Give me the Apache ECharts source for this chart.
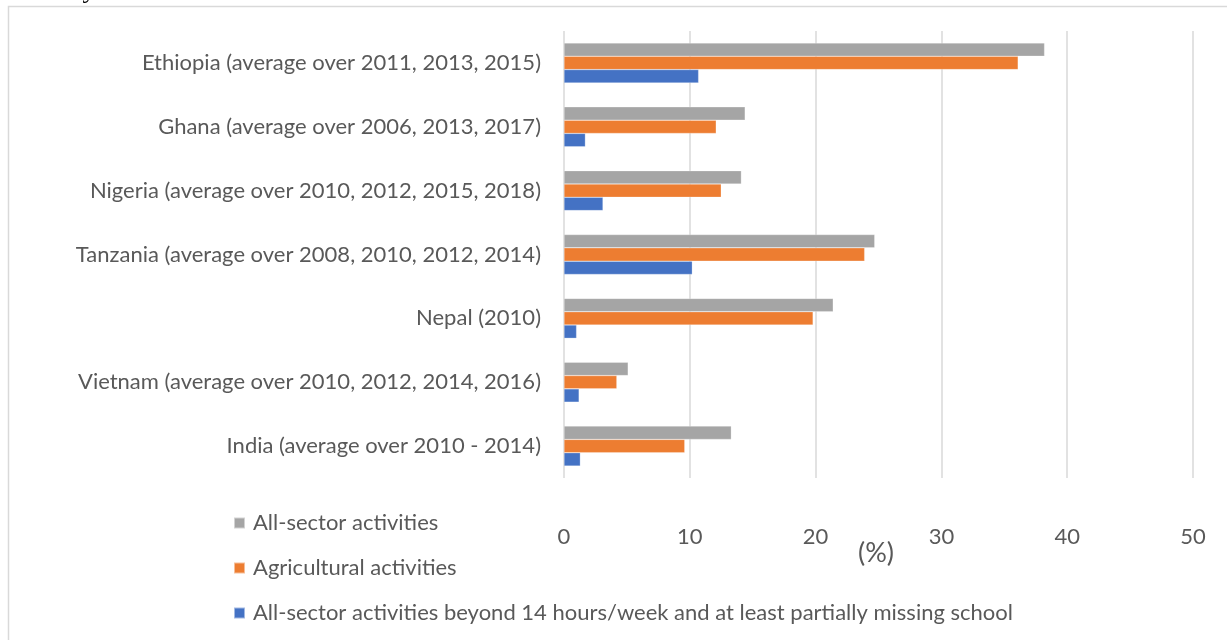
<!DOCTYPE html>
<html>
<head>
<meta charset="utf-8">
<script src="https://cdn.jsdelivr.net/npm/echarts@6/dist/echarts.min.js"></script>
<style>
  html, body { margin: 0; padding: 0; background: #ffffff; }
  #chart { width: 1227px; height: 640px; }
</style>
</head>
<body>
<div id="chart"></div>
<script>
// Countries and survey years
const categories = [
  'Ethiopia (average over 2011, 2013, 2015)',
  'Ghana (average over 2006, 2013, 2017)',
  'Nigeria (average over 2010, 2012, 2015, 2018)',
  'Tanzania (average over 2008, 2010, 2012, 2014)',
  'Nepal (2010)',
  'Vietnam (average over 2010, 2012, 2014, 2016)',
  'India (average over 2010 - 2014)'
];

// Share of children working (%)
const allSector = [38.2, 14.4, 14.1, 24.7, 21.4, 5.1, 13.3];
const agricultural = [36.1, 12.1, 12.5, 23.9, 19.8, 4.2, 9.6];
const beyond14h = [10.7, 1.7, 3.1, 10.2, 1.0, 1.2, 1.3];

const seriesNames = [
  'All-sector activities',
  'Agricultural activities',
  'All-sector activities beyond 14 hours/week and at least partially missing school'
];
const seriesColors = ['#a5a5a5', '#ed7d31', '#4472c4'];

const textColor = '#595959';
const fontFamily = 'Lato, "Open Sans", sans-serif';
const fontSize = 22;

const chart = echarts.init(document.getElementById('chart'));

function barSeries(name, data, color) {
  return {
    name: name,
    type: 'bar',
    data: data,
    barWidth: 13.3,
    barGap: '0%',
    itemStyle: { color: color, borderColor: 'rgba(255,255,255,0.5)', borderWidth: 0.5 },
    emphasis: { disabled: true }
  };
}

chart.setOption({
  animation: false,
  backgroundColor: '#ffffff',
  textStyle: { fontFamily: fontFamily, color: textColor },
  grid: { left: 564, right: 34, top: 31, bottom: 162, containLabel: false },
  xAxis: {
    type: 'value',
    min: 0,
    max: 50,
    interval: 10,
    axisLine: { show: false },
    axisTick: { show: false },
    axisLabel: { color: textColor, fontSize: fontSize, margin: 48, fontFamily: fontFamily },
    splitLine: { show: true, lineStyle: { color: '#d9d9d9', width: 1.5 } }
  },
  yAxis: {
    type: 'category',
    data: categories,
    inverse: true,
    axisLine: { show: false },
    axisTick: { show: false },
    axisLabel: { color: textColor, fontSize: fontSize, margin: 23, fontFamily: fontFamily }
  },
  legend: {
    orient: 'vertical',
    left: 233,
    top: 512,
    padding: 0,
    itemGap: 23,
    itemWidth: 11,
    itemHeight: 11,
    icon: 'rect',
    selectedMode: false,
    textStyle: { color: textColor, fontSize: fontSize, fontFamily: fontFamily, padding: [0, 0, 0, 3] },
    data: seriesNames
  },
  graphic: [
    {
      type: 'rect',
      silent: true,
      shape: { x: 8.5, y: 6.5, width: 1400, height: 800 },
      style: { fill: 'none', stroke: '#d9d9d9', lineWidth: 1.5 }
    },
    {
      type: 'text',
      silent: true,
      left: 16,
      top: -22,
      style: { text: 'country', fontSize: 26, fontFamily: '"Liberation Serif", serif', fill: '#000000' }
    },
    {
      // value axis unit
      type: 'text',
      silent: true,
      x: 876,
      y: 553,
      style: {
        text: '(%)',
        fontSize: 27,
        fontFamily: fontFamily,
        fill: textColor,
        align: 'center',
        verticalAlign: 'middle'
      }
    }
  ],
  series: [
    barSeries(seriesNames[0], allSector, seriesColors[0]),
    barSeries(seriesNames[1], agricultural, seriesColors[1]),
    barSeries(seriesNames[2], beyond14h, seriesColors[2])
  ]
});
</script>
</body>
</html>
